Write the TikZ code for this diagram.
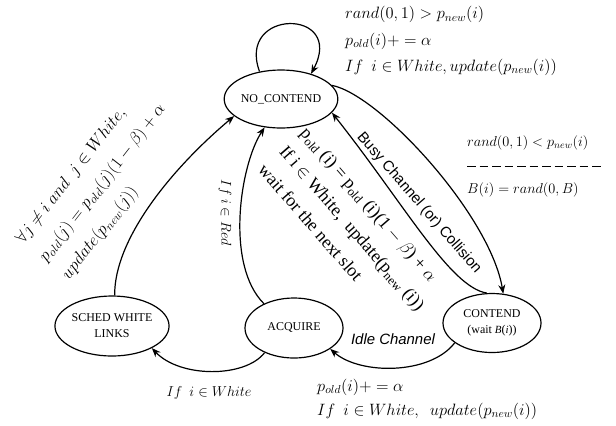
\RequirePackage{fix-cm}
\documentclass[tikz,border=0pt]{standalone}
\usepackage{fontspec}
\setmainfont{Liberation Serif}
\setsansfont{Liberation Sans}
\usetikzlibrary{shapes.geometric,arrows.meta}
\begin{document}
\begin{tikzpicture}[x=1bp,y=-1bp,
  st/.style={ellipse,draw,line width=1.2bp,inner sep=0pt,align=center,
    minimum width=98bp,minimum height=60bp,font=\fontsize{12}{16}\selectfont},
  tr/.style={line width=1.2bp,-{Stealth[length=9bp,width=7bp]}},
  lbl/.style={inner sep=0pt,align=left,font=\fontsize{14.4}{27}\selectfont},
  rml/.style={inner sep=0pt,align=left,font=\fontsize{18}{28}\selectfont},
  sfl/.style={inner sep=0pt,font=\sffamily\fontsize{15}{17}\selectfont}]
\useasboundingbox (0,0) rectangle (616,425);

% states
\node[st,minimum width=100bp,minimum height=58bp] (nc) at (281,99) {NO\_CONTEND};
\node[st] (sched) at (112,326) {SCHED WHITE\\LINKS};
\node[st] (acq) at (294,328) {ACQUIRE};
\node[st,minimum height=59bp] (cont) at (492,323) {CONTEND\\(wait {\fontsize{11}{12}\selectfont\itshape B}({\fontsize{11}{12}\selectfont\itshape i}))};

% transitions
\draw[tr] (nc.128) .. controls (236,8) and (346,8) .. (nc.40);
\draw[tr] (sched.85) .. controls (114,240) and (170,170) .. (nc.200);
\draw[tr] (acq.141) .. controls (225,265) and (240,165) .. (nc.240);
\draw[tr] (nc.15) .. controls (380,95) and (490,215) .. (cont.69);
\draw[tr] (cont.100) .. controls (450,287) and (405,205) .. (nc.345);
\draw[tr] (cont.208) .. controls (430,375) and (360,375) .. (acq.330);
\draw[tr] (acq.220) .. controls (245,378) and (180,378) .. (sched.331);

% labels
\node[lbl,anchor=west,font=\fontsize{16.5}{26.5}\selectfont] (loopl) at (345,41)
  {$rand(0,1) > p_{new}(i)$\\
   $p_{old}(i){+}=\alpha$\\
   $If\ \ i\in White, update(p_{new}(i))$};

\node[lbl,anchor=west] (rl1) at (467,143) {$rand(0,1) < p_{new}(i)$};
\coordinate (dl) at (467,166);
\coordinate (dr) at (603,166);
\draw[line width=0.9bp,dash pattern=on 8.5bp off 4bp] (dl) -- (dr);
\node[lbl,anchor=west] (rl2) at (467,190) {$B(i) = rand(0,B)$};

\node[lbl,anchor=west,font=\fontsize{16.5}{24}\selectfont] (bot) at (317,399)
  {$p_{old}(i){+}=\alpha$\\
   $If\ \ i\in White,\ \ update(p_{new}(i))$};

\node[rml,rotate=-49,anchor=west] (cb) at (283,148)
  {p\textsubscript{old} (i) = p\textsubscript{old} (i)(1 $-$ $\beta$) + $\alpha$\\
   If i $\in$ White,\ \ update(p\textsubscript{new} (i))\\
   wait for the next slot};

\node[rml,rotate=52,anchor=west,font=\fontsize{17.3}{29}\selectfont] (lb) at (43,260)
  {$\forall j\neq i\ and\ \ j\in White,$\\
   $p_{old}(j) = p_{old}(j)(1-\beta)+\alpha$\\
   $update(p_{new}(j))$};

\node[lbl,rotate=-90] (red) at (225,213) {$If\ i\in Red$};
\node[lbl] (white) at (209,393) {$If\ \ i\in White$};
\node[sfl,rotate=-49] (busy) at (419,203) {Busy Channel (or) Collision};
\node[sfl,font=\sffamily\itshape\fontsize{15}{16}\selectfont] (idle) at (393,339) {Idle Channel};
\end{tikzpicture}
\end{document}
